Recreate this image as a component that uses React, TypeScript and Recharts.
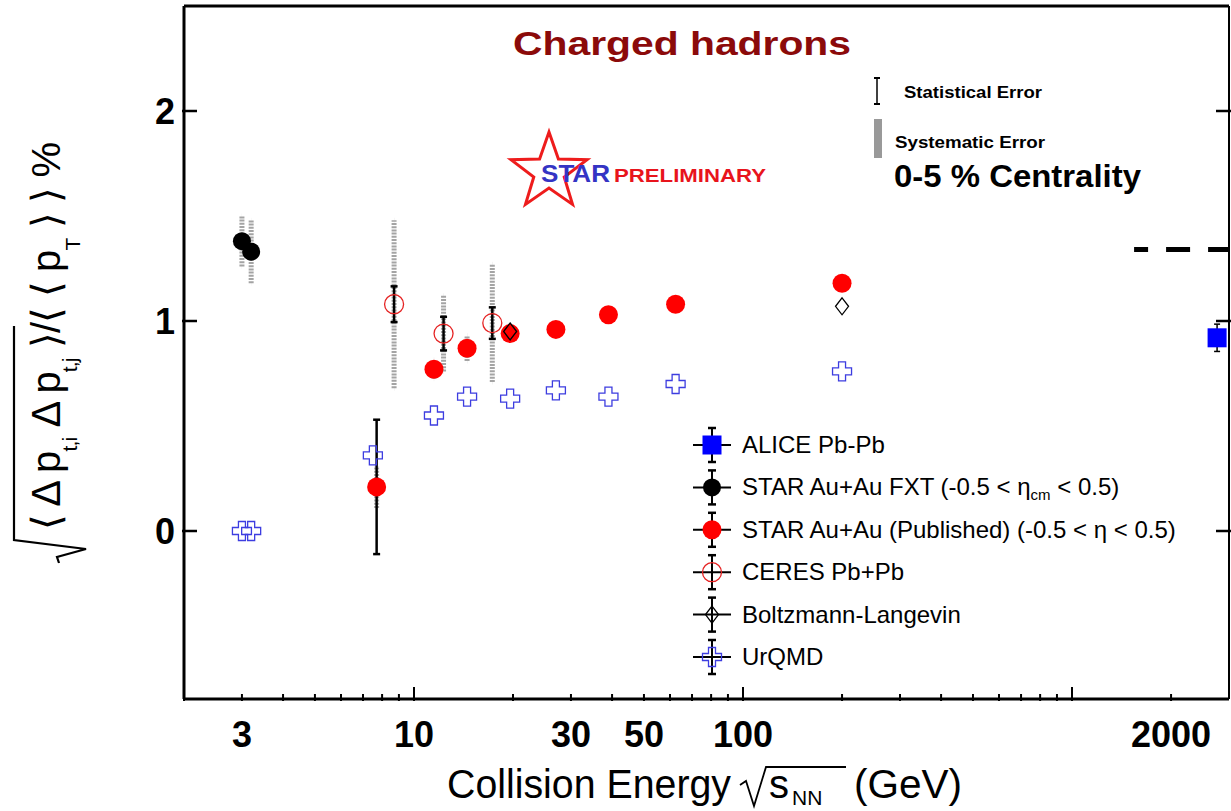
import React from 'react';
import { ScatterChart, Scatter, XAxis, YAxis, ErrorBar, ReferenceLine, Legend } from 'recharts';

const SANS = "'Liberation Sans', Arial, Helvetica, sans-serif";

// STAR Au+Au fixed target
const fxtEnergy = [3.0, 3.2];
const fxtValue = [1.38, 1.33];
const fxtStat = [0.01, 0.01];
const fxtSys = [0.12, 0.15];

// STAR Au+Au BES / published
const starEnergy = [7.7, 11.5, 14.5, 19.6, 27, 39, 62.4, 200];
const starValue = [0.21, 0.77, 0.87, 0.94, 0.96, 1.03, 1.08, 1.18];
const starStat = [0.32, 0.02, 0.02, 0.02, 0.02, 0.02, 0.02, 0.02];
const starSys = [0.1, 0.045, 0.06, 0.03, 0.03, 0.03, 0.03, 0.03];

// CERES Pb+Pb
const ceresEnergy = [8.7, 12.3, 17.3];
const ceresValue = [1.08, 0.94, 0.99];
const ceresStat = [0.085, 0.08, 0.075];
const ceresSys = [0.4, 0.18, 0.28];

// Boltzmann-Langevin model
const blEnergy = [19.6, 200];
const blValue = [0.95, 1.07];

// UrQMD model
const urqmdEnergy = [3.0, 3.2, 7.5, 11.5, 14.5, 19.6, 27, 39, 62.4, 200];
const urqmdValue = [0, 0, 0.36, 0.55, 0.64, 0.63, 0.67, 0.64, 0.7, 0.76];

// ALICE Pb-Pb
const aliceEnergy = [2760];
const aliceValue = [0.92];
const aliceStat = [0.065];

// dashed level at the LHC end
const dashLevel = 1.34;
const dashFrom = 1544;
const dashTo = 3000;

const xMajorTicks = [10, 100, 1000];
const xMinorTicks = [2, 3, 4, 5, 6, 7, 8, 9, 20, 30, 40, 50, 60, 70, 80, 90, 200, 300, 400, 500, 600, 700, 800, 900, 2000];
const xLabels = [3, 10, 30, 50, 100, 2000];
const yTicks = [0, 1, 2];

const rows = (e: number[], v: number[], stat?: number[], sys?: number[]) =>
  e.map((x, i) => ({ e: x, v: v[i], stat: stat ? stat[i] : 0, sys: sys ? sys[i] : 0 }));

const xTicks = [...xMinorTicks, ...xMajorTicks].sort((a, b) => a - b);

type Kind = 'alice' | 'fxt' | 'star' | 'ceres' | 'bl' | 'urqmd';

function Marker({ kind, cx, cy }: { kind: Kind; cx: number; cy: number }) {
  if (cx == null || cy == null) return null;
  switch (kind) {
    case 'alice':
      return <rect x={cx - 9.5} y={cy - 9.5} width={19} height={19} fill="#0000ff" />;
    case 'fxt':
      return <circle cx={cx} cy={cy} r={9} fill="#000" />;
    case 'star':
      return <circle cx={cx} cy={cy} r={9.5} fill="#ff0000" />;
    case 'ceres':
      return <circle cx={cx} cy={cy} r={9.5} fill="none" stroke="#e52222" strokeWidth={1.3} />;
    case 'bl':
      return (
        <path
          d={`M${cx},${cy - 8.5} L${cx + 6.5},${cy} L${cx},${cy + 8.5} L${cx - 6.5},${cy} Z`}
          fill="none"
          stroke="#000"
          strokeWidth={1.3}
        />
      );
    case 'urqmd': {
      const a = 9.5;
      const b = 3.5;
      return (
        <path
          d={`M${cx - b},${cy - a} H${cx + b} V${cy - b} H${cx + a} V${cy + b} H${cx + b} V${cy + a} H${cx - b} V${cy + b} H${cx - a} V${cy - b} H${cx - b} Z`}
          fill="none"
          stroke="#3d3de0"
          strokeWidth={1.3}
        />
      );
    }
  }
  return null;
}

const series: { name: string; kind: Kind; label: React.ReactNode }[] = [
  { name: 'ALICE Pb-Pb', kind: 'alice', label: 'ALICE Pb-Pb' },
  {
    name: 'STAR Au+Au FXT',
    kind: 'fxt',
    label: (
      <>
        STAR Au+Au FXT (-0.5 {'<'} η
        <tspan fontSize={15} dy={5}>cm</tspan>
        <tspan dy={-5}> {'<'} 0.5)</tspan>
      </>
    ),
  },
  { name: 'STAR Au+Au (Published)', kind: 'star', label: 'STAR Au+Au (Published) (-0.5 < η < 0.5)' },
  { name: 'CERES Pb+Pb', kind: 'ceres', label: 'CERES Pb+Pb' },
  { name: 'Boltzmann-Langevin', kind: 'bl', label: 'Boltzmann-Langevin' },
  { name: 'UrQMD', kind: 'urqmd', label: 'UrQMD' },
];

const renderLegend = (props: any) => {
  const names: string[] = (props.payload || []).map((p: any) => p.value);
  const items = names.length ? series.filter((s) => names.includes(s.name)) : series;
  return (
    <svg width={530} height={260} style={{ display: 'block' }}>
      {items.map((s, i) => {
        const cx = 32;
        const cy = 25 + i * 42.4;
        return (
          <g key={s.name}>
            <line x1={cx - 19} x2={cx + 19} y1={cy} y2={cy} stroke="#000" strokeWidth={2} />
            <line x1={cx} x2={cx} y1={cy - 17} y2={cy + 17} stroke="#000" strokeWidth={2} />
            <line x1={cx - 4} x2={cx + 4} y1={cy - 17} y2={cy - 17} stroke="#000" strokeWidth={2.5} />
            <line x1={cx - 4} x2={cx + 4} y1={cy + 17} y2={cy + 17} stroke="#000" strokeWidth={2.5} />
            <Marker kind={s.kind} cx={cx} cy={cy} />
            <text x={62} y={cy + 8} fontSize={24} fontFamily={SANS} fill="#000">
              {s.label}
            </text>
          </g>
        );
      })}
    </svg>
  );
};

const BottomTick = (p: any) => {
  const v = p.payload.value;
  const major = xMajorTicks.includes(v);
  return (
    <g>
      <line x1={p.x} x2={p.x} y1={p.y} y2={p.y - (major ? 14 : 7)} stroke="#000" strokeWidth={2} />
      {xLabels.includes(v) && (
        <text x={p.x} y={p.y + 46} textAnchor="middle" fontSize={36} fontWeight="bold" fontFamily={SANS} fill="#000">
          {v}
        </text>
      )}
    </g>
  );
};

const TopTick = (p: any) => {
  const major = xMajorTicks.includes(p.payload.value);
  return <line x1={p.x} x2={p.x} y1={p.y} y2={p.y + (major ? 14 : 7)} stroke="#000" strokeWidth={2} />;
};

const LeftTick = (p: any) => (
  <g>
    <line x1={p.x} x2={p.x + 15} y1={p.y} y2={p.y} stroke="#000" strokeWidth={2.5} />
    <text x={p.x - 7} y={p.y + 13} textAnchor="end" fontSize={36} fontWeight="bold" fontFamily={SANS} fill="#000">
      {p.payload.value}
    </text>
  </g>
);

const RightTick = (p: any) => (
  <line x1={p.x} x2={p.x - 15} y1={p.y} y2={p.y} stroke="#000" strokeWidth={2.5} />
);

const starPoints = Array.from({ length: 10 }, (_, i) => {
  const r = i % 2 === 0 ? 40 : 16;
  const a = -Math.PI / 2 + (i * Math.PI) / 5;
  return `${549 + r * Math.cos(a)},${172 + r * Math.sin(a)}`;
}).join(' ');

const sysBar = { stroke: '#a4a4a4', strokeWidth: 5, strokeDasharray: '2 1.2' };

export default function App() {
  return (
    <div style={{ position: 'absolute', left: 0, top: 0, width: 1231, height: 811, background: '#fff' }}>
      <ScatterChart width={1231} height={811} margin={{ top: 5, right: 1, bottom: 0, left: 0 }}>
        <XAxis
          type="number"
          dataKey="e"
          scale="log"
          domain={[2, 3000]}
          allowDataOverflow
          ticks={xTicks}
          interval={0}
          tick={<BottomTick />}
          tickLine={false}
          tickSize={0}
          height={112}
          axisLine={{ stroke: '#000', strokeWidth: 3 }}
        />
        <XAxis
          xAxisId="top"
          orientation="top"
          type="number"
          scale="log"
          domain={[2, 3000]}
          allowDataOverflow
          ticks={xTicks}
          interval={0}
          tick={<TopTick />}
          tickLine={false}
          tickSize={0}
          height={1}
          axisLine={{ stroke: '#000', strokeWidth: 3 }}
        />
        <YAxis
          type="number"
          dataKey="v"
          domain={[-0.8, 2.5]}
          allowDataOverflow
          ticks={yTicks}
          interval={0}
          tick={<LeftTick />}
          tickLine={false}
          tickSize={0}
          width={184}
          axisLine={{ stroke: '#000', strokeWidth: 3 }}
        />
        <YAxis
          yAxisId="right"
          orientation="right"
          type="number"
          domain={[-0.8, 2.5]}
          allowDataOverflow
          ticks={yTicks}
          interval={0}
          tick={<RightTick />}
          tickLine={false}
          tickSize={0}
          width={1}
          axisLine={{ stroke: '#000', strokeWidth: 2 }}
        />

        <ReferenceLine
          segment={[
            { x: dashFrom, y: dashLevel },
            { x: dashTo, y: dashLevel },
          ]}
          stroke="#000"
          strokeWidth={5}
          strokeDasharray="24 18"
          strokeDashoffset={10}
          ifOverflow="visible"
        />

        <Scatter
          name="UrQMD"
          data={rows(urqmdEnergy, urqmdValue)}
          isAnimationActive={false}
          shape={(p: any) => <Marker kind="urqmd" cx={p.cx} cy={p.cy} />}
        />
        <Scatter
          name="CERES Pb+Pb"
          data={rows(ceresEnergy, ceresValue, ceresStat, ceresSys)}
          isAnimationActive={false}
          shape={(p: any) => <Marker kind="ceres" cx={p.cx} cy={p.cy} />}
        >
          <ErrorBar dataKey="sys" direction="y" width={0} {...sysBar} isAnimationActive={false} />
          <ErrorBar dataKey="stat" direction="y" width={3.5} stroke="#000" strokeWidth={2.5} isAnimationActive={false} />
        </Scatter>
        <Scatter
          name="STAR Au+Au (Published)"
          data={rows(starEnergy, starValue, starStat, starSys)}
          isAnimationActive={false}
          shape={(p: any) => <Marker kind="star" cx={p.cx} cy={p.cy} />}
        >
          <ErrorBar dataKey="sys" direction="y" width={0} {...sysBar} isAnimationActive={false} />
          <ErrorBar dataKey="stat" direction="y" width={3.5} stroke="#000" strokeWidth={2.5} isAnimationActive={false} />
        </Scatter>
        <Scatter
          name="STAR Au+Au FXT"
          data={rows(fxtEnergy, fxtValue, fxtStat, fxtSys)}
          isAnimationActive={false}
          shape={(p: any) => <Marker kind="fxt" cx={p.cx} cy={p.cy} />}
        >
          <ErrorBar dataKey="sys" direction="y" width={0} {...sysBar} isAnimationActive={false} />
        </Scatter>
        <Scatter
          name="Boltzmann-Langevin"
          data={rows(blEnergy, blValue)}
          isAnimationActive={false}
          shape={(p: any) => <Marker kind="bl" cx={p.cx} cy={p.cy} />}
        />
        <Scatter
          name="ALICE Pb-Pb"
          data={rows(aliceEnergy, aliceValue, aliceStat)}
          isAnimationActive={false}
          shape={(p: any) => <Marker kind="alice" cx={p.cx} cy={p.cy} />}
        >
          <ErrorBar dataKey="stat" direction="y" width={3} stroke="#000" strokeWidth={1.5} isAnimationActive={false} />
        </Scatter>

        <Legend
          layout="vertical"
          align="center"
          verticalAlign="middle"
          content={renderLegend}
          wrapperStyle={{ left: 680, top: 420, width: 530, height: 260 }}
        />
      </ScatterChart>

      <svg
        width={1231}
        height={811}
        style={{ position: 'absolute', left: 0, top: 0, pointerEvents: 'none' }}
        fontFamily={SANS}
      >
        <text x={513} y={55} fontSize={34} fontWeight="bold" fill="#8b0a0a" textLength={338} lengthAdjust="spacingAndGlyphs">
          Charged hadrons
        </text>

        <polygon points={starPoints} fill="none" stroke="#ee1c1c" strokeWidth={3} />
        <text x={541} y={182} fontSize={23} fontWeight="bold" fill="#3434c4" textLength={69} lengthAdjust="spacingAndGlyphs">
          STAR
        </text>
        <text x={614} y={182} fontSize={19} fontWeight="bold" fill="#e8141c" textLength={152} lengthAdjust="spacingAndGlyphs">
          PRELIMINARY
        </text>

        <line x1={877} x2={877} y1={78} y2={104} stroke="#000" strokeWidth={1.5} />
        <line x1={874} x2={880} y1={78} y2={78} stroke="#000" strokeWidth={2} />
        <line x1={874} x2={880} y1={104} y2={104} stroke="#000" strokeWidth={2} />
        <text x={904} y={98} fontSize={17} fontWeight="bold" fill="#000" textLength={138} lengthAdjust="spacingAndGlyphs">
          Statistical Error
        </text>
        <rect x={874} y={119} width={8} height={39} fill="#999" />
        <text x={895} y={148} fontSize={17} fontWeight="bold" fill="#000" textLength={150} lengthAdjust="spacingAndGlyphs">
          Systematic Error
        </text>
        <text x={894} y={187} fontSize={31} fontWeight="bold" fill="#000" textLength={247} lengthAdjust="spacingAndGlyphs">
          0-5 % Centrality
        </text>

        {/* y-axis title with radical */}
        <path d="M14 326 L14 540 L86 549 L57 557 L59 563" stroke="#000" strokeWidth={2.2} fill="none" />
        <g transform="translate(60,336) rotate(-90)">
          <text x={0} y={0} textAnchor="middle" fontSize={40} fill="#000" textLength={388} lengthAdjust="spacing">
            ⟨ Δ p<tspan fontSize={21} dy={17}>t,i</tspan>
            <tspan dy={-17}> Δ p</tspan>
            <tspan fontSize={21} dy={17}>t,j</tspan>
            <tspan dy={-17}> ⟩/⟨ ⟨ p</tspan>
            <tspan fontSize={21} dy={20}>T</tspan>
            <tspan dy={-20}> ⟩ ⟩ %</tspan>
          </text>
        </g>

        {/* x-axis title */}
        <text x={447} y={798} fontSize={40} fill="#000" textLength={284} lengthAdjust="spacingAndGlyphs">
          Collision Energy
        </text>
        <path d="M740 785 L746 781 L754 806 L766 767 L846 767" stroke="#000" strokeWidth={1.8} fill="none" />
        <text x={769} y={798} fontSize={40} fill="#000">
          s
        </text>
        <text x={792} y={805} fontSize={21} fill="#000">
          NN
        </text>
        <text x={854} y={798} fontSize={40} fill="#000" textLength={108} lengthAdjust="spacingAndGlyphs">
          (GeV)
        </text>
      </svg>
    </div>
  );
}
